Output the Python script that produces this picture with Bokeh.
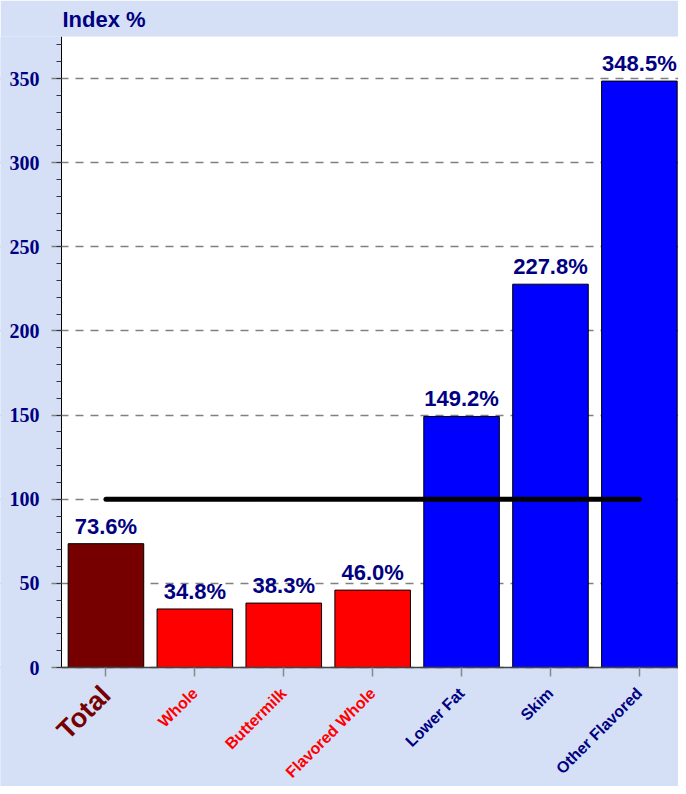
from bokeh.plotting import figure
from bokeh.models import Range1d, FixedTicker, LinearAxis, BoxAnnotation
from bokeh.core.properties import value
from bokeh.embed import file_html
from bokeh.resources import INLINE

# ---- data ----
categories = ["Total", "Whole", "Buttermilk", "Flavored Whole", "Lower Fat", "Skim", "Other Flavored"]
values = [73.6, 34.8, 38.3, 46.0, 149.2, 227.8, 348.5]
bar_colors = ["#760000", "#ff0000", "#ff0000", "#ff0000", "#0000ff", "#0000ff", "#0000ff"]
cat_label_colors = ["#760000", "#ff0000", "#ff0000", "#ff0000", "#000080", "#000080", "#000080"]
cat_label_sizes = ["27px", "16px", "16px", "16px", "16px", "16px", "16px"]
value_labels = ["73.6%", "34.8%", "38.3%", "46.0%", "149.2%", "227.8%", "348.5%"]
baseline_value = 100
y_major_ticks = [0, 50, 100, 150, 200, 250, 300, 350]
y_minor_ticks = list(range(0, 380, 10))
y_title = "Index %"

xs = [i + 0.5 for i in range(len(categories))]
NAVY = "#000080"
FONT = "Liberation Sans"
BG = "#d5e0f7"
X_END = 6.94
Y_END = 375

p = figure(width=678, height=786, x_range=Range1d(-0.686, X_END), y_range=Range1d(-70.7, Y_END),
           output_backend="svg", toolbar_location=None, x_axis_location=None, y_axis_location=None,
           min_border_left=0, min_border_right=0, min_border_top=36, min_border_bottom=0)
p.background_fill_color = BG
p.border_fill_color = BG
p.outline_line_color = None

p.title.text = y_title
p.title.text_font = FONT
p.title.text_font_style = "bold"
p.title.text_font_size = "22px"
p.title.text_color = NAVY
p.title.offset = 62
p.title.standoff = 9

# white plotting area (above zero, right of the y axis)
p.add_layout(BoxAnnotation(left=0, bottom=0, fill_color="white", fill_alpha=1.0,
                           line_color=None, level="image"))

# y grid (dashed)
yt = FixedTicker(ticks=y_major_ticks, minor_ticks=y_minor_ticks)
p.ygrid.ticker = yt
p.ygrid.grid_line_color = "#808080"
p.ygrid.grid_line_dash = "8 7"
p.ygrid.grid_line_width = 1.5
p.xgrid.visible = False
# keep the grid out of the margin left of the axis
p.add_layout(BoxAnnotation(right=0, fill_color=BG, fill_alpha=1.0, line_color=None, level="underlay"))

# bars
p.vbar(x=xs, top=values, width=0.85, fill_color=bar_colors, line_color="black", line_width=1)

# value labels
p.text(x=xs, y=values, text=value_labels, text_align="center", text_baseline="bottom",
       y_offset=-5, text_font=value(FONT), text_font_style="bold", text_font_size="22px",
       text_color=NAVY)

# 100 reference line
p.line(x=[xs[0], xs[-1]], y=[baseline_value, baseline_value], line_color="black",
       line_width=5, line_cap="round")

# x axis at zero
xaxis = LinearAxis(ticker=FixedTicker(ticks=xs), fixed_location=0, bounds=(0, X_END))
xaxis.major_label_overrides = {x: "" for x in xs}
xaxis.axis_line_color = "#444444"
xaxis.axis_line_width = 1.5
xaxis.major_tick_line_color = "#888888"
xaxis.major_tick_line_width = 1.5
xaxis.major_tick_out = 9
xaxis.major_tick_in = 0
xaxis.minor_tick_line_color = None
p.add_layout(xaxis, "below")

# y axis at zero
yaxis = LinearAxis(ticker=yt, fixed_location=0, bounds=(0, Y_END))
yaxis.axis_line_color = "black"
yaxis.axis_line_width = 1
yaxis.major_tick_out = 10
yaxis.major_tick_in = 0
yaxis.major_tick_line_color = "#808080"
yaxis.major_tick_line_width = 1.5
yaxis.minor_tick_out = 5
yaxis.minor_tick_in = 0
yaxis.minor_tick_line_color = "#333333"
yaxis.major_label_text_font = "Liberation Serif"
yaxis.major_label_text_font_style = "bold"
yaxis.major_label_text_font_size = "20px"
yaxis.major_label_text_color = NAVY
yaxis.major_label_standoff = 12
p.add_layout(yaxis, "left")

# category labels (rotated, coloured per category)
p.text(x=xs, y=[0] * len(xs), text=categories, angle=45, angle_units="deg",
       text_align="right", text_baseline="middle", y_offset=23,
       text_color=cat_label_colors, text_font_size=cat_label_sizes,
       text_font=value(FONT), text_font_style="bold")

open("out.html", "w").write(file_html(p, INLINE))
